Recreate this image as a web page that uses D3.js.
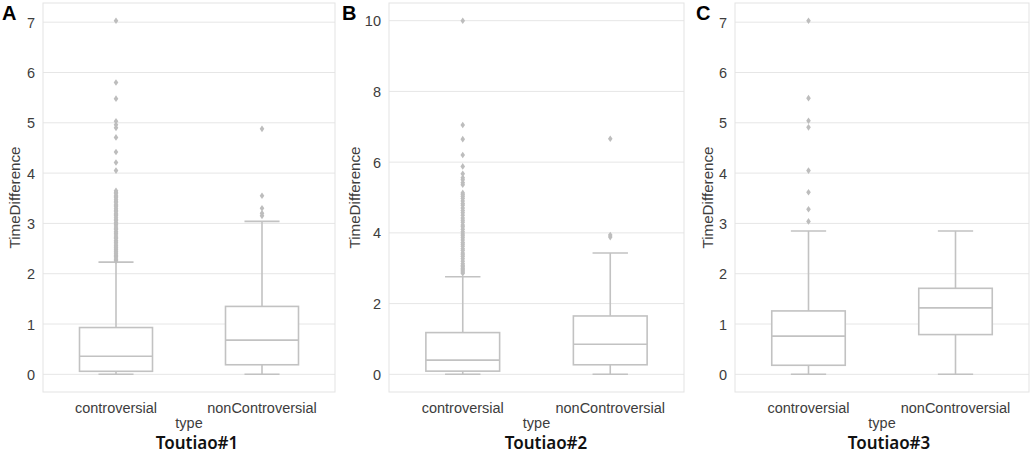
<!DOCTYPE html>
<html>
<head>
<meta charset="utf-8">
<script src="https://cdn.jsdelivr.net/npm/d3@7"></script>
<style>
  body { margin: 0; background: #fff; }
  text { font-family: "Liberation Sans", Arial, sans-serif; }
</style>
</head>
<body>
<div id="chart"></div>
<script>
// Three box plots of TimeDifference by comment type (Toutiao#1..#3)

const categories = ["controversial", "nonControversial"];
const panelLetters = ["A", "B", "C"];
const panelTitles = ["Toutiao#1", "Toutiao#2", "Toutiao#3"];

const yTicksA = [0, 1, 2, 3, 4, 5, 6, 7];
const yTicksB = [0, 2, 4, 6, 8, 10];
const yTicksC = [0, 1, 2, 3, 4, 5, 6, 7];

// [lower whisker, Q1, median, Q3, upper whisker] per category
const statsA = [[0, 0.06, 0.36, 0.93, 2.23], [0, 0.19, 0.68, 1.35, 3.04]];
const statsB = [[0, 0.09, 0.40, 1.18, 2.76], [0, 0.27, 0.85, 1.65, 3.43]];
const statsC = [[0, 0.18, 0.76, 1.26, 2.85], [0, 0.79, 1.32, 1.71, 2.85]];

const outliersA = [
  [2.26, 2.28, 2.31, 2.34, 2.36, 2.39, 2.41, 2.44, 2.47, 2.49, 2.52, 2.55, 2.57, 2.61, 2.63,
   2.66, 2.70, 2.72, 2.75, 2.79, 2.81, 2.84, 2.88, 2.90, 2.93, 2.97, 2.99, 3.02, 3.06, 3.08,
   3.11, 3.15, 3.17, 3.20, 3.24, 3.26, 3.29, 3.33, 3.35, 3.38, 3.42, 3.44, 3.47, 3.51, 3.53,
   3.56, 3.60, 3.62, 3.65, 4.05, 4.21, 4.42, 4.71, 4.90, 4.96, 5.03, 5.48, 5.80, 7.03],
  [3.15, 3.20, 3.30, 3.55, 4.88]
];
const outliersB = [
  [2.86, 2.89, 2.93, 2.97, 3.00, 3.04, 3.08, 3.13, 3.20, 3.27, 3.33, 3.38, 3.43, 3.50, 3.55,
   3.62, 3.68, 3.73, 3.80, 3.86, 3.92, 3.97, 4.03, 4.10, 4.17, 4.22, 4.30, 4.36, 4.42, 4.50,
   4.57, 4.63, 4.70, 4.78, 4.83, 4.90, 4.97, 5.03, 5.08, 5.13, 5.36, 5.42, 5.50, 5.56, 5.67,
   5.88, 6.20, 6.65, 7.05, 10.0],
  [3.88, 3.94, 6.66]
];
const outliersC = [
  [3.04, 3.28, 3.62, 4.05, 4.91, 5.04, 5.49, 7.03],
  []
];

const panels = [
  { stats: statsA, outliers: outliersA, ticks: yTicksA, x0: 43, x1: 335, labelX: 20, letterX: 2, titleX: 197 },
  { stats: statsB, outliers: outliersB, ticks: yTicksB, x0: 389, x1: 684, labelX: 360, letterX: 342, titleX: 546 },
  { stats: statsC, outliers: outliersC, ticks: yTicksC, x0: 735, x1: 1029, labelX: 713, letterX: 696, titleX: 889 }
];

const width = 1031, height = 454;
const plotTop = 3, plotBottom = 392;
const lineColor = "#c2c2c2";
const textColor = "#3d3d3d";
const stretch = "scale(1,1.06)"; // source image is slightly taller than wide

const svg = d3.select("#chart").append("svg")
  .attr("width", width)
  .attr("height", height);

// thin diamond marker like matplotlib "d"
const thinDiamond = {
  draw(ctx, size) {
    const w = 2.3, h = 3.3;
    ctx.moveTo(0, -h); ctx.lineTo(w, 0); ctx.lineTo(0, h); ctx.lineTo(-w, 0); ctx.closePath();
  }
};

panels.forEach((p, i) => {
  const g = svg.append("g");

  // y domain padded 5% like seaborn
  const maxVal = d3.max([...p.stats.map(s => s[4]), ...p.outliers.flat()]);
  const pad = maxVal * 0.05;
  const y = d3.scaleLinear().domain([-pad, maxVal + pad]).range([plotBottom, plotTop]);
  const x = d3.scaleBand().domain(categories).range([p.x0, p.x1]);
  const boxW = x.bandwidth() * 0.5;
  const capW = boxW * 0.48;

  // grid
  g.selectAll(".grid")
    .data(p.ticks)
    .join("line")
    .attr("x1", p.x0).attr("x2", p.x1)
    .attr("y1", d => y(d)).attr("y2", d => y(d))
    .attr("stroke", "#e6e6e6")
    .attr("stroke-width", 1);

  // frame
  g.append("rect")
    .attr("x", p.x0).attr("y", plotTop)
    .attr("width", p.x1 - p.x0).attr("height", plotBottom - plotTop)
    .attr("fill", "none")
    .attr("stroke", "#e3e3e3")
    .attr("stroke-width", 1);

  // y tick labels
  g.selectAll(".ytick")
    .data(p.ticks)
    .join("text")
    .attr("transform", d => `translate(${p.x0 - 8},${y(d)}) ${stretch}`)
    .attr("dy", "0.36em")
    .attr("text-anchor", "end")
    .style("font-size", "14.5px")
    .style("fill", textColor)
    .text(d => d);

  // boxes
  categories.forEach((c, j) => {
    const s = p.stats[j];
    const cx = x(c) + x.bandwidth() / 2;
    const bg = g.append("g")
      .attr("stroke", lineColor)
      .attr("stroke-width", 1.6)
      .attr("fill", "none");

    bg.append("line").attr("x1", cx).attr("x2", cx).attr("y1", y(s[3])).attr("y2", y(s[4]));
    bg.append("line").attr("x1", cx).attr("x2", cx).attr("y1", y(s[1])).attr("y2", y(s[0]));
    bg.append("line").attr("x1", cx - capW / 2).attr("x2", cx + capW / 2).attr("y1", y(s[4])).attr("y2", y(s[4]));
    bg.append("line").attr("x1", cx - capW / 2).attr("x2", cx + capW / 2).attr("y1", y(s[0])).attr("y2", y(s[0]));
    bg.append("rect")
      .attr("x", cx - boxW / 2).attr("y", y(s[3]))
      .attr("width", boxW).attr("height", y(s[1]) - y(s[3]))
      .attr("fill", "#fff");
    bg.append("line").attr("x1", cx - boxW / 2).attr("x2", cx + boxW / 2).attr("y1", y(s[2])).attr("y2", y(s[2]));

    g.selectAll(".out" + j)
      .data(p.outliers[j])
      .join("path")
      .attr("class", "out" + j)
      .attr("d", d3.symbol().type(thinDiamond))
      .attr("transform", d => `translate(${cx},${y(d)})`)
      .attr("fill", "#bdbdbd");

    // x tick label
    g.append("text")
      .attr("transform", `translate(${cx},412.5) ${stretch}`)
      .attr("text-anchor", "middle")
      .style("font-size", "14.5px")
      .style("fill", textColor)
      .text(c);
  });

  // axis titles
  g.append("text")
    .attr("transform", `translate(${(p.x0 + p.x1) / 2},428) ${stretch}`)
    .attr("text-anchor", "middle")
    .style("font-size", "14.5px")
    .style("fill", textColor)
    .text("type");

  g.append("text")
    .attr("transform", `translate(${p.labelX},${(plotTop + plotBottom) / 2}) rotate(-90)`)
    .attr("text-anchor", "middle")
    .style("font-size", "15.2px")
    .style("fill", textColor)
    .text("TimeDifference");

  // panel title under the plot
  g.append("text")
    .attr("x", p.titleX)
    .attr("y", 448.5)
    .attr("text-anchor", "middle")
    .style("font-family", "'Noto Sans', sans-serif")
    .style("font-size", "17px")
    .style("font-weight", 600)
    .style("fill", "#111")
    .text(panelTitles[i]);

  // panel letter
  g.append("text")
    .attr("x", p.letterX)
    .attr("y", 20)
    .style("font-size", "20px")
    .style("font-weight", "bold")
    .style("fill", "#000")
    .text(panelLetters[i]);
});
</script>
</body>
</html>
